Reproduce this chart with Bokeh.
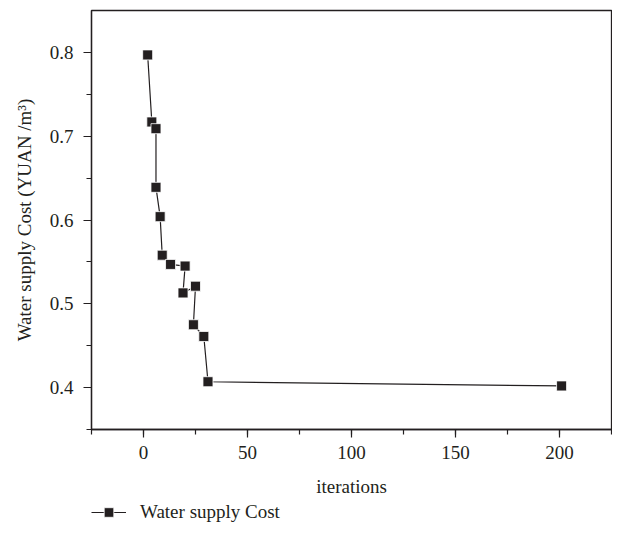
from bokeh.plotting import figure
from bokeh.layouts import column
from bokeh.models import Range1d, SingleIntervalTicker, Legend, LegendItem
from bokeh.embed import file_html
from bokeh.resources import INLINE

# Data
iterations = [2, 4, 6, 6, 8, 9, 13, 20, 19, 25, 24, 29, 31, 201]
cost = [0.797, 0.717, 0.709, 0.639, 0.604, 0.558, 0.547, 0.545, 0.513, 0.521, 0.475, 0.461, 0.407, 0.402]
series_name = "Water supply Cost"
x_title = "iterations"
y_title = "Water supply Cost (YUAN /m\u00b3)"

FONT = "Liberation Serif"
INK = "#231f20"

p = figure(width=612, height=500, x_range=Range1d(-25, 225), y_range=Range1d(0.35, 0.85),
           output_backend="svg", toolbar_location=None,
           min_border_left=91, min_border_right=1, min_border_top=10, min_border_bottom=71)

p.background_fill_color = "white"
p.border_fill_color = "white"
p.outline_line_color = INK
p.outline_line_width = 1.3
p.grid.visible = False

line_style = dict(line_color=INK, line_width=1.2)
marker_style = dict(marker="square", size=10, fill_color=INK, line_color="white", line_width=0.8)

p.line(iterations, cost, **line_style)
p.scatter(iterations, cost, **marker_style)

p.xaxis.ticker = SingleIntervalTicker(interval=50, num_minor_ticks=2)
p.yaxis.ticker = SingleIntervalTicker(interval=0.1, num_minor_ticks=2)

for ax in (p.xaxis[0], p.yaxis[0]):
    ax.axis_line_color = INK
    ax.axis_line_width = 1.3
    ax.major_tick_line_color = INK
    ax.minor_tick_line_color = INK
    ax.major_tick_line_width = 1.2
    ax.minor_tick_line_width = 1.2
    ax.major_tick_out = 8
    ax.major_tick_in = 0
    ax.minor_tick_out = 5
    ax.minor_tick_in = 0
    ax.major_label_text_font = FONT
    ax.major_label_text_font_size = "19px"
    ax.major_label_text_color = INK
    ax.axis_label_text_font = FONT
    ax.axis_label_text_font_size = "19px"
    ax.axis_label_text_font_style = "normal"
    ax.axis_label_text_color = INK

p.xaxis.axis_label = x_title
p.yaxis.axis_label = y_title
p.xaxis.major_label_standoff = 8
p.xaxis.axis_label_standoff = 14
p.yaxis.major_label_standoff = 10
p.yaxis.axis_label_standoff = 12

# Legend strip below the chart (same series, drawn outside its view so only the legend shows)
lg = figure(width=612, height=24, x_range=Range1d(1000, 1001), y_range=Range1d(0, 1),
            x_axis_type=None, y_axis_type=None, output_backend="svg", toolbar_location=None,
            min_border_left=0, min_border_right=0, min_border_top=0, min_border_bottom=0)
lg.outline_line_color = None
lg.grid.visible = False
lr = lg.line(iterations, cost, **line_style)
sr = lg.scatter(iterations, cost, **marker_style)

legend = Legend(items=[LegendItem(label=series_name, renderers=[lr, sr])],
                location=(0, 0), padding=0, margin=0, spacing=0,
                glyph_width=35, glyph_height=24, label_height=24, label_standoff=14,
                label_text_font=FONT, label_text_font_size="19px", label_text_color=INK,
                border_line_color=None, background_fill_alpha=0)
lg.add_layout(legend)

layout = column(p, lg, spacing=0)
open("out.html", "w").write(file_html(layout, INLINE))
